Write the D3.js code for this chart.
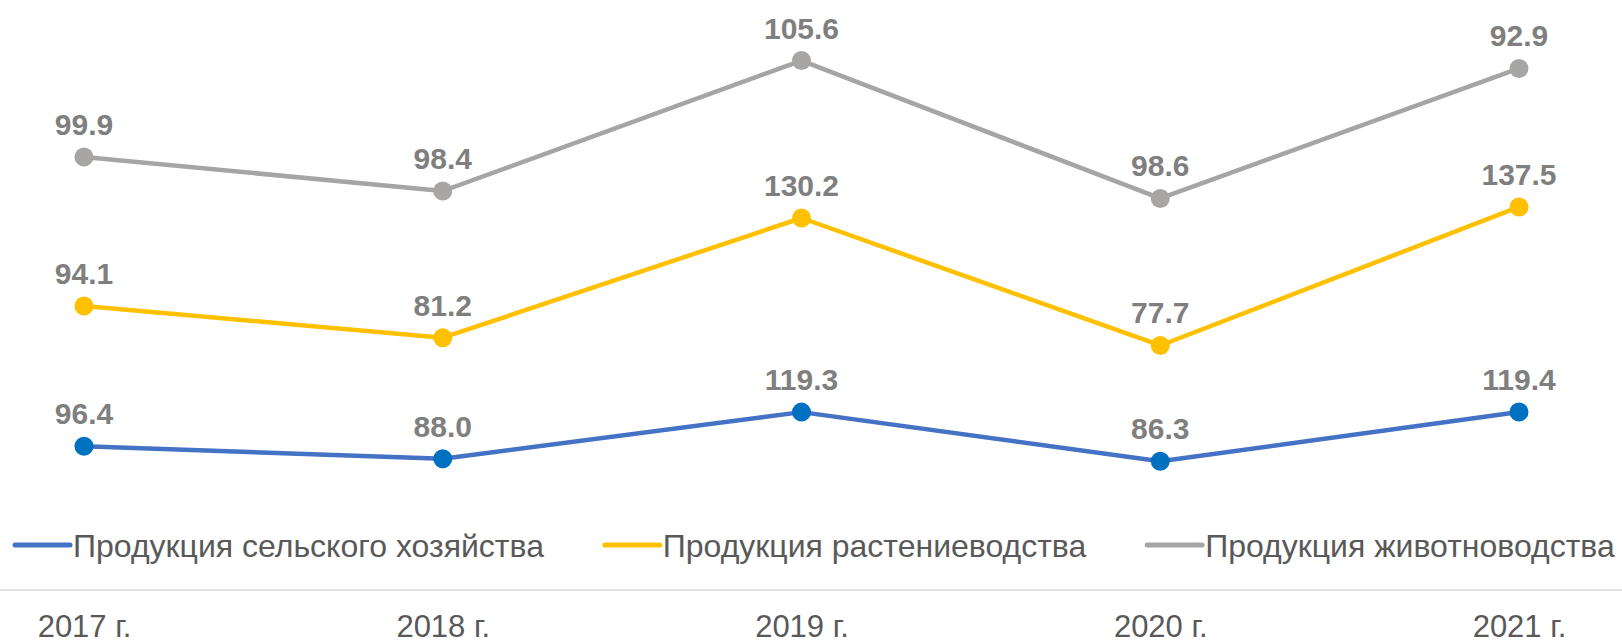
<!DOCTYPE html>
<html>
<head>
<meta charset="utf-8">
<script src="https://cdn.jsdelivr.net/npm/d3@7"></script>
<style>
    html, body { margin: 0; padding: 0; background: #ffffff; }
    svg { display: block; font-family: "Liberation Sans", Arial, sans-serif; }
</style>
</head>
<body>
<div id="chart"></div>
<script>
// данные
var years = ["2017 г.", "2018 г.", "2019 г.", "2020 г.", "2021 г."];
var agriculture = [96.4, 88.0, 119.3, 86.3, 119.4];
var crops = [94.1, 81.2, 130.2, 77.7, 137.5];
var livestock = [99.9, 98.4, 105.6, 98.6, 92.9];

var seriesNames = ["Продукция сельского хозяйства", "Продукция растениеводства", "Продукция животноводства"];
var seriesKeys = ["agriculture", "crops", "livestock"];
var lineColors = ["#4472C4", "#FFC000", "#A5A5A5"];
var markerColors = ["#0070C0", "#FFC000", "#A8A5A5"];

var width = 1622, height = 643;

var rows = years.map(function(y, i) {
    return { year: y, agriculture: agriculture[i], crops: crops[i], livestock: livestock[i] };
});

// накопительные линии
var stacked = d3.stack().keys(seriesKeys)(rows);

var svg = d3.select("#chart").append("svg")
    .attr("width", width)
    .attr("height", height);

var x = d3.scalePoint()
    .domain(years)
    .range([84, 1519]);

var y = d3.scaleLinear()
    .domain([0, 400])
    .range([590, -6.4]);

// ось X
svg.append("line")
    .attr("x1", 0).attr("x2", width)
    .attr("y1", y(0)).attr("y2", y(0))
    .attr("stroke", "#d9d9d9")
    .attr("stroke-width", 1.5);

var xAxis = svg.append("g")
    .attr("transform", "translate(0," + y(0) + ")")
    .call(d3.axisBottom(x).tickSize(0).tickPadding(0));
xAxis.select(".domain").remove();
xAxis.selectAll("text")
    .attr("y", 47)
    .attr("dy", 0)
    .attr("font-size", "31px")
    .attr("font-family", "Liberation Sans, Arial, sans-serif")
    .attr("fill", "#595959");

var line = d3.line()
    .x(function(d) { return x(d.data.year); })
    .y(function(d) { return y(d[1]); });

var groups = svg.selectAll(".series")
    .data(stacked)
    .enter()
    .append("g")
    .attr("class", "series");

groups.append("path")
    .attr("d", function(d) { return line(d); })
    .attr("fill", "none")
    .attr("stroke", function(d, i) { return lineColors[i]; })
    .attr("stroke-width", 4.5)
    .attr("stroke-linejoin", "round");

groups.selectAll("circle")
    .data(function(d, i) { return d.map(function(p) { return { p: p, i: i }; }); })
    .enter()
    .append("circle")
    .attr("cx", function(d) { return x(d.p.data.year); })
    .attr("cy", function(d) { return y(d.p[1]); })
    .attr("r", 9.5)
    .attr("fill", function(d) { return markerColors[d.i]; });

// подписи данных
groups.selectAll(".label")
    .data(function(d, i) { return d.map(function(p) { return { p: p, key: seriesKeys[i] }; }); })
    .enter()
    .append("text")
    .attr("class", "label")
    .attr("x", function(d) { return x(d.p.data.year); })
    .attr("y", function(d) { return y(d.p[1]) - 22; })
    .attr("text-anchor", "middle")
    .attr("font-size", "30px")
    .attr("font-weight", "bold")
    .attr("fill", "#7f7f7f")
    .text(function(d) { return d.p.data[d.key].toFixed(1); });

// легенда
var legend = svg.append("g").attr("class", "legend");
var items = legend.selectAll(".item")
    .data(seriesNames)
    .enter()
    .append("g")
    .attr("class", "item");

items.append("line")
    .attr("x1", 0).attr("x2", 55)
    .attr("y1", 545).attr("y2", 545)
    .attr("stroke", function(d, i) { return lineColors[i]; })
    .attr("stroke-width", 5)
    .attr("stroke-linecap", "round");

items.append("text")
    .attr("x", 58)
    .attr("y", 557)
    .attr("font-size", "32px")
    .attr("fill", "#595959")
    .text(function(d) { return d; });

var widths = [];
items.each(function() { widths.push(this.getBBox().width); });
var legendLeft = 15, legendRight = 1615;
var gap = (legendRight - legendLeft - d3.sum(widths)) / (widths.length - 1);
var pos = legendLeft;
items.attr("transform", function(d, i) {
    var t = "translate(" + pos + ",0)";
    pos += widths[i] + gap;
    return t;
});
</script>
</body>
</html>
